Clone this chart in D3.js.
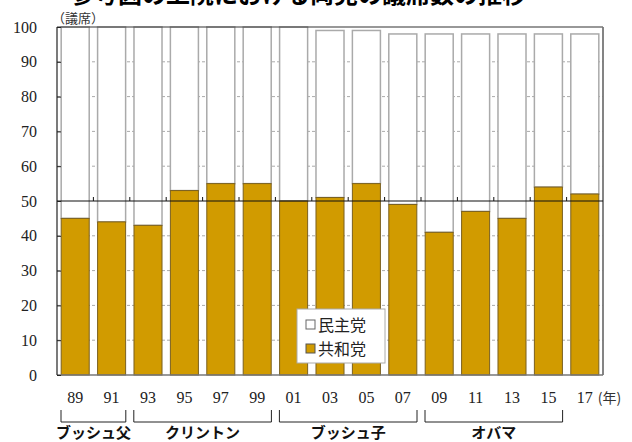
<!DOCTYPE html>
<html><head><meta charset="utf-8">
<script src="https://cdn.jsdelivr.net/npm/d3@7"></script>
<style>body{margin:0;background:#fff}svg{display:block}</style>
</head><body><svg id="c" width="632" height="442"></svg>
<script>
const years = ["89","91","93","95","97","99","01","03","05","07","09","11","13","15","17"];
const republican = [45,44,43,53,55,55,50,51,55,49,41,47,45,54,52];
const democrat   = [55,56,57,47,45,45,50,48,44,49,57,51,53,44,46];
const yTicks = [0,10,20,30,40,50,60,70,80,90,100];
const presidents = ["ブッシュ父","クリントン","ブッシュ子","オバマ"];
const presidentSpans = [[0,2],[2,6],[6,10],[10,14]];
const title = "参考図の上院における両党の議席数の推移";

const svg = d3.select("#c");
const L=57, R=603, T=27, B=375;
const x = d3.scaleBand().domain(years).range([L,R]).paddingInner(0.23).paddingOuter(0.115);
const y = d3.scaleLinear().domain([0,100]).range([B,T]);
const serif = "'Liberation Serif', 'Times New Roman', serif";
const jp = "'Noto Sans CJK JP', sans-serif";
const gold = "#D19B00";

svg.append("text").attr("x",70).attr("y",3).style("font-family",jp).attr("font-weight","bold")
  .attr("font-size",24).attr("fill","#000").text(title);
svg.append("text").attr("x",52).attr("y",23).style("font-family",jp).attr("font-size",13).attr("fill","#333").text("（議席）");

// gridlines
svg.append("g").selectAll("line").data(yTicks.filter(d=>d>0&&d<100&&d!==50)).join("line")
  .attr("x1",L).attr("x2",R).attr("y1",d=>y(d)).attr("y2",d=>y(d))
  .attr("stroke","#aaa").attr("stroke-width",1).attr("stroke-dasharray","3,2");

const step = x.step();
const slotStart = i => L + i*step;

// bars
const g = svg.append("g");
years.forEach((yr,i)=>{
  g.append("rect").attr("x",x(yr)).attr("width",x.bandwidth())
   .attr("y",y(republican[i]+democrat[i])).attr("height",y(republican[i])-y(republican[i]+democrat[i]))
   .attr("fill","#fff").attr("stroke","#aaa").attr("stroke-width",1.5);
  g.append("rect").attr("x",x(yr)).attr("width",x.bandwidth())
   .attr("y",y(republican[i])).attr("height",y(0)-y(republican[i]))
   .attr("fill",gold).attr("stroke","#7a6020").attr("stroke-width",1);
});

// frame
svg.append("line").attr("x1",L).attr("x2",R).attr("y1",T).attr("y2",T).attr("stroke","#333").attr("stroke-width",1.2);
svg.append("line").attr("x1",R).attr("x2",R).attr("y1",T).attr("y2",B).attr("stroke","#777").attr("stroke-width",1.8);
svg.append("line").attr("x1",L).attr("x2",R).attr("y1",B).attr("y2",B).attr("stroke","#777").attr("stroke-width",1.5);
svg.append("line").attr("x1",L).attr("x2",L).attr("y1",T).attr("y2",B).attr("stroke","#222").attr("stroke-width",1.2);

// 50 line with ticks
svg.append("line").attr("x1",L).attr("x2",R).attr("y1",y(50)).attr("y2",y(50)).attr("stroke","#111").attr("stroke-width",1.2);
svg.append("g").selectAll("line").data(d3.range(1,years.length)).join("line")
  .attr("x1",i=>slotStart(i)).attr("x2",i=>slotStart(i)).attr("y1",y(50)).attr("y2",y(50)-4)
  .attr("stroke","#111").attr("stroke-width",1);

// y axis
const yAxis = d3.axisLeft(y).tickValues(yTicks).tickSize(-4).tickPadding(20);
const ya = svg.append("g").attr("transform",`translate(${L},0)`).call(yAxis);
ya.attr("font-family",null).attr("font-size",null);
ya.select(".domain").remove();
ya.selectAll(".tick line").attr("stroke","#222");
ya.selectAll("text").style("font-family",serif).style("font-size","16px").attr("fill","#222");

// x labels
svg.append("g").selectAll("text").data(years).join("text")
  .attr("x",d=>x(d)+x.bandwidth()/2).attr("y",403).attr("text-anchor","middle")
  .style("font-family",serif).style("font-size","16px").attr("fill","#222").text(d=>d);
svg.append("text").attr("x",x("17")+x.bandwidth()/2+13).attr("y",403).style("font-family",jp)
  .attr("font-size",14).attr("fill","#333").text("(年)");

// brackets
presidents.forEach((p,i)=>{
  const a = slotStart(presidentSpans[i][0])+4, b = slotStart(presidentSpans[i][1])-4;
  svg.append("path").attr("d",`M${a},410V422H${b}V410`).attr("fill","none").attr("stroke","#222").attr("stroke-width",1);
  svg.append("text").attr("x",(a+b)/2).attr("y",438).attr("text-anchor","middle")
    .style("font-family",jp).attr("font-weight","bold").attr("font-size",15).attr("fill","#111").text(p);
});

// legend
const lg = svg.append("g");
lg.append("rect").attr("x",297).attr("y",309).attr("width",88).attr("height",54).attr("fill","#fff").attr("stroke","#aaa").attr("stroke-width",1);
[["民主党","#fff","#666"],["共和党",gold,"#555"]].forEach((d,i)=>{
  const yy = 325 + i*24;
  lg.append("rect").attr("x",306).attr("y",yy-5).attr("width",9).attr("height",9).attr("fill",d[1]).attr("stroke",d[2]).attr("stroke-width",1);
  lg.append("text").attr("x",318).attr("y",yy+6).style("font-family",jp).attr("font-size",16).attr("fill","#222").text(d[0]);
});
</script></body></html>
